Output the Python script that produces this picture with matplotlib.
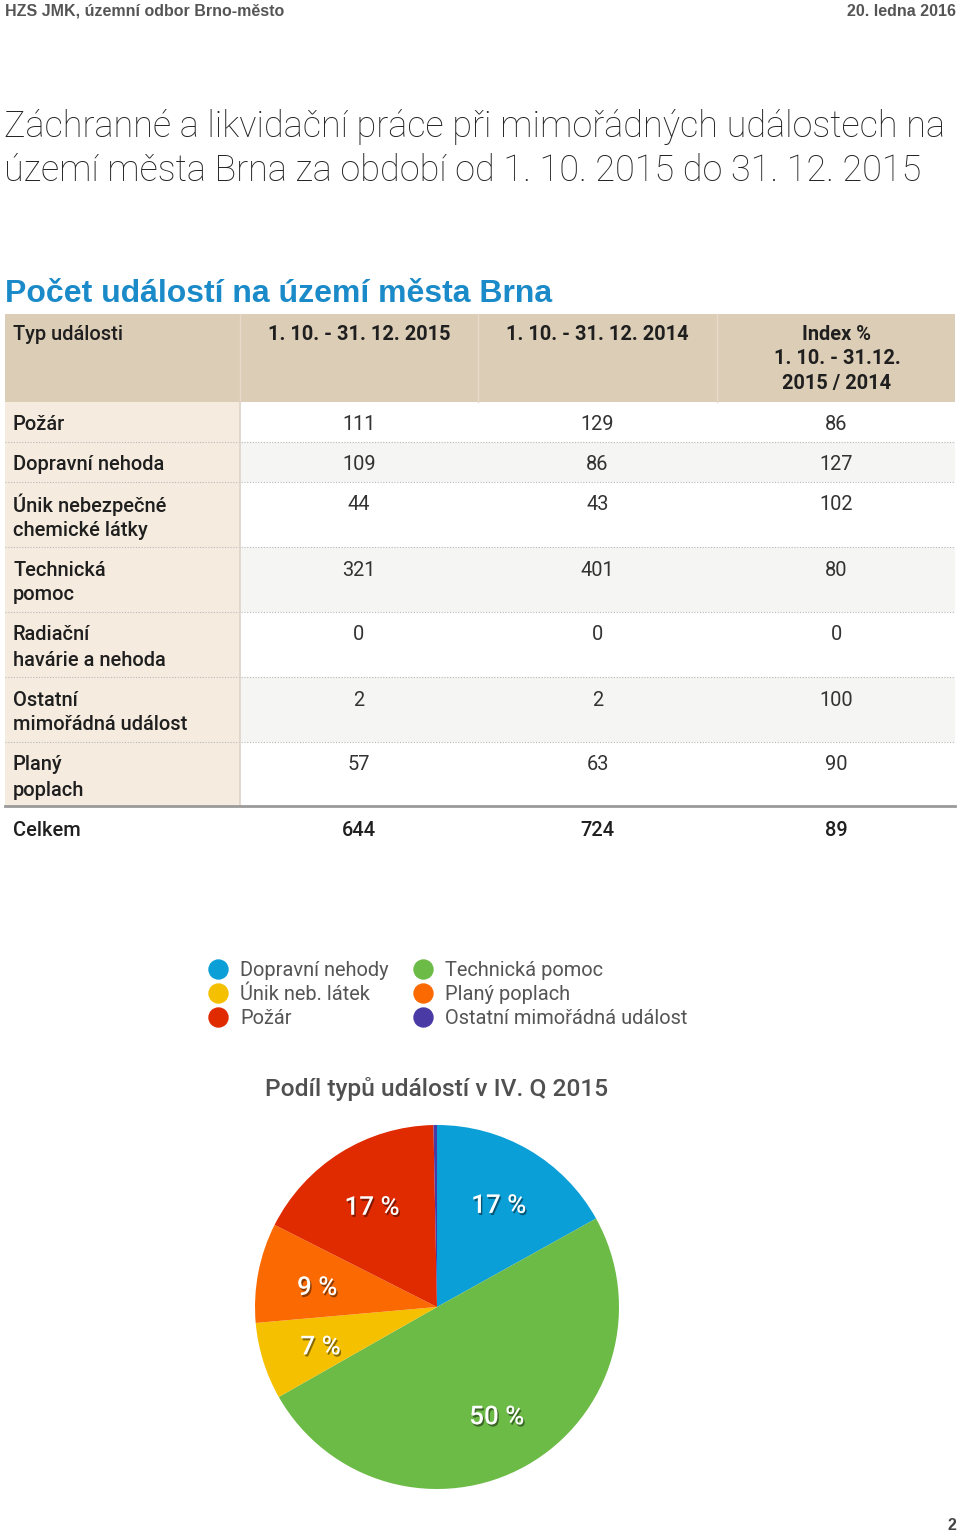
import matplotlib
matplotlib.use("Agg")
import matplotlib.pyplot as plt
import matplotlib.patheffects as pe
from matplotlib.patches import Rectangle

# ---------------- data ----------------
header_left = "HZS JMK, územní odbor Brno-město"
header_right = "20. ledna 2016"
title_lines = ["Záchranné a likvidační práce při mimořádných událostech na",
               "území města Brna za období od 1. 10. 2015 do 31. 12. 2015"]
subtitle = "Počet událostí na území města Brna"
col_headers = ["Typ události", "1. 10. - 31. 12. 2015", "1. 10. - 31. 12. 2014",
               "Index %\n1. 10. - 31.12.\n2015 / 2014"]
categories = ["Požár", "Dopravní nehoda", "Únik nebezpečné\nchemické látky",
              "Technická\npomoc", "Radiační\nhavárie a nehoda",
              "Ostatní\nmimořádná událost", "Planý\npoplach"]
values_2015 = [111, 109, 44, 321, 0, 2, 57]
values_2014 = [129, 86, 43, 401, 0, 2, 63]
index_pct = [86, 127, 102, 80, 0, 100, 90]
total_label = "Celkem"
totals = [644, 724, 89]

pie_title = "Podíl typů událostí v IV. Q 2015"
pie_labels = ["Dopravní nehody", "Technická pomoc", "Únik neb. látek",
              "Planý poplach", "Požár", "Ostatní mimořádná událost"]
pie_values = [109, 321, 44, 57, 111, 2]
pie_colors = ["#0b9fd8", "#6cbb47", "#f5c000", "#fb6a02", "#e02a00", "#4a3aa6"]
legend_order = [0, 2, 4, 1, 3, 5]
page_number = "2"

# ---------------- layout ----------------
W, H = 960, 1534
fig = plt.figure(figsize=(W / 100, H / 100), dpi=100)
ax = fig.add_axes([0, 0, 1, 1])
ax.set_xlim(0, W)
ax.set_ylim(H, 0)
ax.axis("off")

def pt(px):
    return px * 0.72

FONT = ["Liberation Sans", "DejaVu Sans"]
RFONT = ["Roboto", "Liberation Sans", "DejaVu Sans"]
TXT = "#1f1f1f"

ax.text(5, 11, header_left, fontsize=pt(16), fontweight="bold", color="#555555",
        family=FONT, va="center", ha="left")
ax.text(956, 11, header_right, fontsize=pt(16), fontweight="bold", color="#555555",
        family=FONT, va="center", ha="right")

for i, line in enumerate(title_lines):
    ax.text(4, 127 + i * 44, line, fontsize=pt(36), color="#222222",
            family=RFONT, fontweight="light", va="center", ha="left")

ax.text(5, 294, subtitle, fontsize=pt(32), color="#1a8ac8", fontweight="bold",
        family=FONT, va="center", ha="left")

# table
x_edges = [5, 240, 478, 717, 955]
col_centers = [(x_edges[i] + x_edges[i + 1]) / 2 for i in range(4)]
head_top, head_bot = 314, 402
row_heights = [40, 40, 65, 65, 65, 65, 64]

ax.add_patch(Rectangle((x_edges[0], head_top), x_edges[-1] - x_edges[0],
                       head_bot - head_top, facecolor="#dccdb6", edgecolor="none"))
for xe in x_edges[1:-1]:
    ax.plot([xe, xe], [head_top, head_bot], color="#e6dacb", lw=1)

ax.text(13, 335, col_headers[0], fontsize=pt(20), color=TXT, family=RFONT,
        fontweight="medium", va="center", ha="left")
for j in range(1, 4):
    for k, line in enumerate(col_headers[j].split("\n")):
        ax.text(col_centers[j] + (1 if j == 3 else 0), 335 + k * 24, line,
                fontsize=pt(20), color=TXT, family=RFONT, fontweight="bold",
                va="center", ha="center")

y = head_bot
for r, cat in enumerate(categories):
    h = row_heights[r]
    ax.add_patch(Rectangle((x_edges[0], y), x_edges[1] - x_edges[0], h,
                           facecolor="#f5ebdf", edgecolor="none"))
    bg = "#f5f5f4" if r % 2 == 1 else "white"
    ax.add_patch(Rectangle((x_edges[1], y), x_edges[-1] - x_edges[1], h,
                           facecolor=bg, edgecolor="none"))
    for k, line in enumerate(cat.split("\n")):
        ax.text(13, y + 23 + k * 25, line, fontsize=pt(20), color=TXT,
                family=RFONT, fontweight="medium", va="center", ha="left")
    for j, v in zip(range(1, 4), (values_2015[r], values_2014[r], index_pct[r])):
        ax.text(col_centers[j], y + 23, str(v), fontsize=pt(20), color="#333333",
                family=RFONT, fontweight="normal", va="center", ha="center")
    y += h
    if r < len(categories) - 1:
        ax.plot([x_edges[0], x_edges[-1]], [y, y], color="#b8b8b8", lw=0.8,
                ls=(0, (1, 1.5)))
ax.plot([x_edges[1], x_edges[1]], [head_bot, y], color="#ddd3c8", lw=1.2)
ax.plot([x_edges[0], x_edges[-1]], [y, y], color="#9a9a9a", lw=2)

ax.text(13, 831, total_label, fontsize=pt(20), color=TXT, family=RFONT,
        fontweight="medium", va="center", ha="left")
for j, v in zip(range(1, 4), totals):
    ax.text(col_centers[j], 831, str(v), fontsize=pt(20), color=TXT, family=RFONT,
            fontweight="medium", va="center", ha="center")

# legend
leg_x = [218, 423]
leg_y = [969, 993, 1017]
for n, idx in enumerate(legend_order):
    cx = leg_x[n // 3]
    cy = leg_y[n % 3]
    ax.scatter([cx], [cy], s=(19 * 0.72) ** 2, color=pie_colors[idx], zorder=3)
    ax.text(cx + 22, cy + 1, pie_labels[idx], fontsize=pt(20), color="#555555",
            family=RFONT, va="center", ha="left")

ax.text(265, 1089, pie_title, fontsize=pt(24.5), color="#505050", family=RFONT,
        fontweight="medium", va="center", ha="left")

ax.text(956, 1526, page_number, fontsize=pt(16), color="#444444", family=FONT,
        fontweight="bold", va="center", ha="right")

# pie
cx, cy, R = 437, 1307, 182
pax = fig.add_axes([(cx - R) / W, (H - cy - R) / H, 2 * R / W, 2 * R / H])
def fmt(p):
    return f"{p:.0f} %" if p >= 1 else ""
wedges, texts, autotexts = pax.pie(
    pie_values, colors=pie_colors, startangle=90, counterclock=False,
    autopct=fmt, pctdistance=0.67, radius=1,
    wedgeprops=dict(linewidth=0),
    textprops=dict(color="white", fontsize=pt(26), family=RFONT, fontweight="medium"))
for t in autotexts:
    tx, ty = t.get_position()
    t.set_position((tx, ty - 0.022))
    t.set_path_effects([pe.withSimplePatchShadow(offset=(1, -1.5),
                                                 shadow_rgbFace="black", alpha=0.45)])
pax.set_xlim(-1, 1)
pax.set_ylim(-1, 1)
pax.set_aspect("equal")
pax.axis("off")

fig.savefig("out.png", dpi=100)
